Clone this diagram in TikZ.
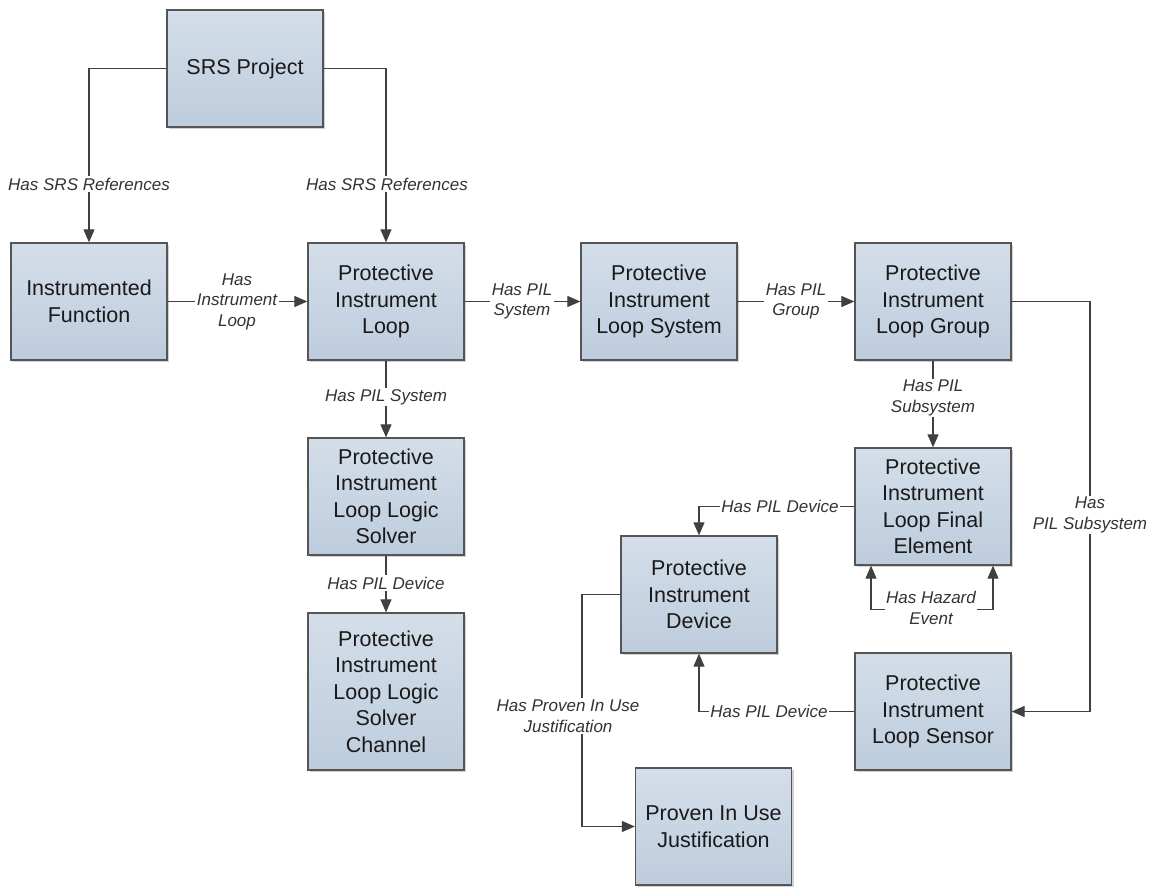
\documentclass[tikz,border=0pt]{standalone}
\usepackage{fontspec}
\setmainfont{Liberation Sans}
\usetikzlibrary{arrows.meta,shadows,calc}
\definecolor{linec}{HTML}{404040}
\definecolor{boxline}{HTML}{555555}
\definecolor{boxtop}{HTML}{D4DEE9}
\definecolor{boxbot}{HTML}{BDCCDD}
\begin{document}
\begin{tikzpicture}[x=1pt,y=-1pt,
  box/.style={rectangle, draw=boxline, line width=1.3pt, top color=boxtop, bottom color=boxbot,
    minimum width=156pt, minimum height=117pt, align=center, inner sep=2pt,
    font=\fontsize{21.5}{26.5}\selectfont, text=black!90,
    drop shadow={shadow xshift=2pt, shadow yshift=-2pt, fill=black, opacity=0.18}},
  conn/.style={draw=linec, line width=1.2pt, -{Triangle[length=13pt,width=11pt]}},
  conn2/.style={draw=linec, line width=1.2pt, {Triangle[length=13pt,width=11pt]}-{Triangle[length=13pt,width=11pt]}},
  lab/.style={font=\itshape\fontsize{17}{20.5}\selectfont, fill=white, inner sep=1.5pt, align=center, text=black!80}]
\useasboundingbox (0,0) rectangle (1159,886);

% nodes
\node[box] (srs) at (245,68.5) {SRS Project};
\node[box] (if) at (89,301.5) {Instrumented\\Function};
\node[box] (pil) at (386,301.5) {Protective\\Instrument\\Loop};
\node[box] (pils) at (659,301.5) {Protective\\Instrument\\Loop System};
\node[box] (pilg) at (933,301.5) {Protective\\Instrument\\Loop Group};
\node[box] (ls) at (386,496.5) {Protective\\Instrument\\Loop Logic\\Solver};
\node[box, minimum height=157pt] (lsc) at (386,691.5) {Protective\\Instrument\\Loop Logic\\Solver\\Channel};
\node[box] (fe) at (933,506.5) {Protective\\Instrument\\Loop Final\\Element};
\node[box] (pid) at (699,594.5) {Protective\\Instrument\\Device};
\node[box] (sen) at (933,711.5) {Protective\\Instrument\\Loop Sensor};
\node[box] (piuj) at (713.5,826.5) {Proven In Use\\Justification};

% connectors
\draw[conn] (srs.west) -| (if.north);
\draw[conn] (srs.east) -| (pil.north);
\draw[conn] (if.east) -- (pil.west);
\draw[conn] (pil.east) -- (pils.west);
\draw[conn] (pils.east) -- (pilg.west);
\draw[conn] (pil.south) -- (ls.north);
\draw[conn] (ls.south) -- (lsc.north);
\draw[conn] (pilg.south) -- (fe.north);
\draw[conn] (fe.west) -| (pid.north);
\coordinate (rt) at (1090,301.5);
\draw[conn] (pilg.east) -- (rt) |- (sen.east);
\draw[conn] (sen.west) -| (pid.south);
\coordinate (lt) at (582,594.5);
\draw[conn] (pid.west) -- (lt) |- (piuj.west);
\draw[conn2] ($(fe.south)+(-62,0)$) -- ++(0,44) -| ($(fe.south)+(60,0)$);

% labels
\node[lab] (l1) at (89,184) {Has SRS References};
\node[lab] (l2) at (387,184) {Has SRS References};
\node[lab] (l3) at (237,301.5) {Has\\Instrument\\Loop};
\node[lab] (l4) at (522,301.5) {Has PIL\\System};
\node[lab] (l5) at (796,301.5) {Has PIL\\Group};
\node[lab] (l6) at (386,397) {Has PIL System};
\node[lab] (l7) at (386,583) {Has PIL Device};
\node[lab] (l8) at (933,398) {Has PIL\\Subsystem};
\node[lab] (l9) at (780,506.5) {Has PIL Device};
\node[lab] (l10) at (1090,515) {Has\\PIL Subsystem};
\node[lab] (l11) at (769,711.5) {Has PIL Device};
\node[lab] (l12) at (568,716) {Has Proven In Use\\Justification};
\node[lab] (l13) at (931,608) {Has Hazard\\Event};
\end{tikzpicture}
\end{document}
